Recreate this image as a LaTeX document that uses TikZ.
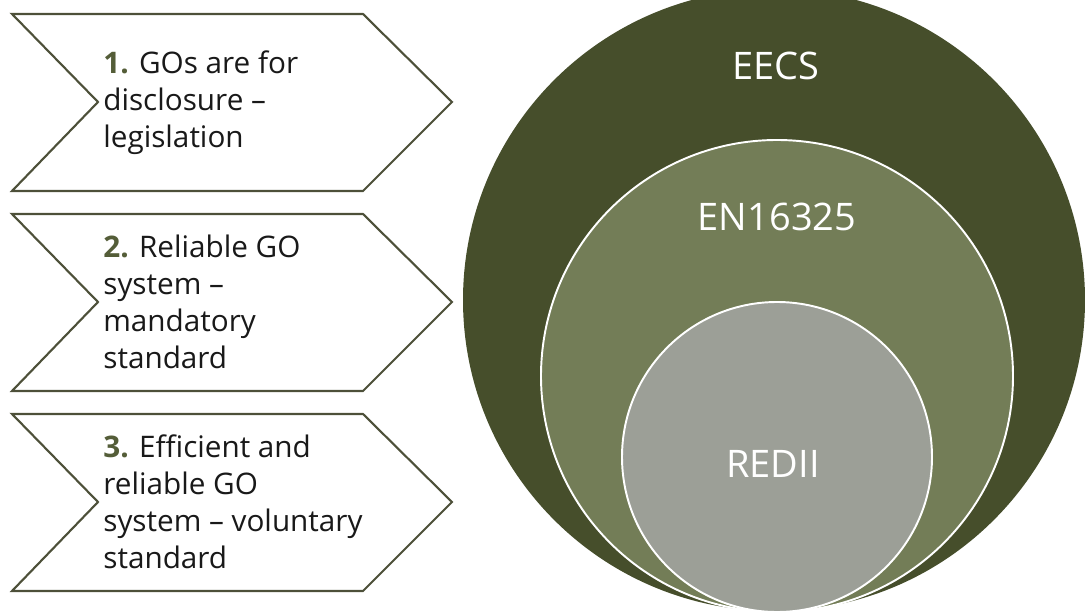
\documentclass[tikz,border=0pt]{standalone}
\usepackage{fontspec}
\setmainfont{Open Sans}
\usepackage{tikz}
\usetikzlibrary{positioning}
\definecolor{olivedark}{HTML}{464E2B}
\definecolor{olivemid}{HTML}{737D57}
\definecolor{olivegrey}{HTML}{9C9F97}
\definecolor{chevline}{HTML}{4D5039}
\definecolor{numcol}{HTML}{545D38}
\newcommand{\stepnum}[1]{\textbf{\color{numcol}#1}}

\begin{document}
\begin{tikzpicture}[line cap=round,line join=miter,x=0.2mm,y=-0.2mm,
  chevron/.style={draw=chevline,line width=1.2pt,fill=white},
  chevtext/.style={anchor=west,align=left,inner sep=0pt,font=\fontsize{16.9}{21}\selectfont,text=black!90},
  ring/.style={draw=white,line width=1.1pt},
  ringtext/.style={text=white,inner sep=0pt,font=\fontsize{21.6}{26}\selectfont}]
\clip (0,0) rectangle (1085,613);
% chevrons
\draw [chevron] (12,14) -- (363,14) -- (452,102) -- (363,191) -- (12,191) -- (98,102) -- cycle;
\draw [chevron] (12,214) -- (363,214) -- (452,302) -- (363,391) -- (12,391) -- (98,302) -- cycle;
\draw [chevron] (12,414) -- (363,414) -- (452,502) -- (363,591) -- (12,591) -- (98,502) -- cycle;
\node [chevtext] (legis) at (103,103) {\stepnum{1.} GOs are for\\disclosure --\\legislation};
\node [chevtext] (mandat) at (103,302) {\stepnum{2.} Reliable GO\\system --\\mandatory\\standard};
\node [chevtext] (volunt) at (103,502) {\stepnum{3.} Efficient and\\reliable GO\\system -- voluntary\\standard};
% nested circles
\fill [olivedark] (774,300) circle [radius=311];
\filldraw [ring,fill=olivemid] (777,376) circle [radius=236];
\filldraw [ring,fill=olivegrey] (777,457) circle [radius=155];
\node [ringtext] (eecs) at (776,66) {EECS};
\node [ringtext] (en) at (777,217) {EN16325};
\node [ringtext] (red) at (773,464) {REDII};
\end{tikzpicture}
\end{document}
